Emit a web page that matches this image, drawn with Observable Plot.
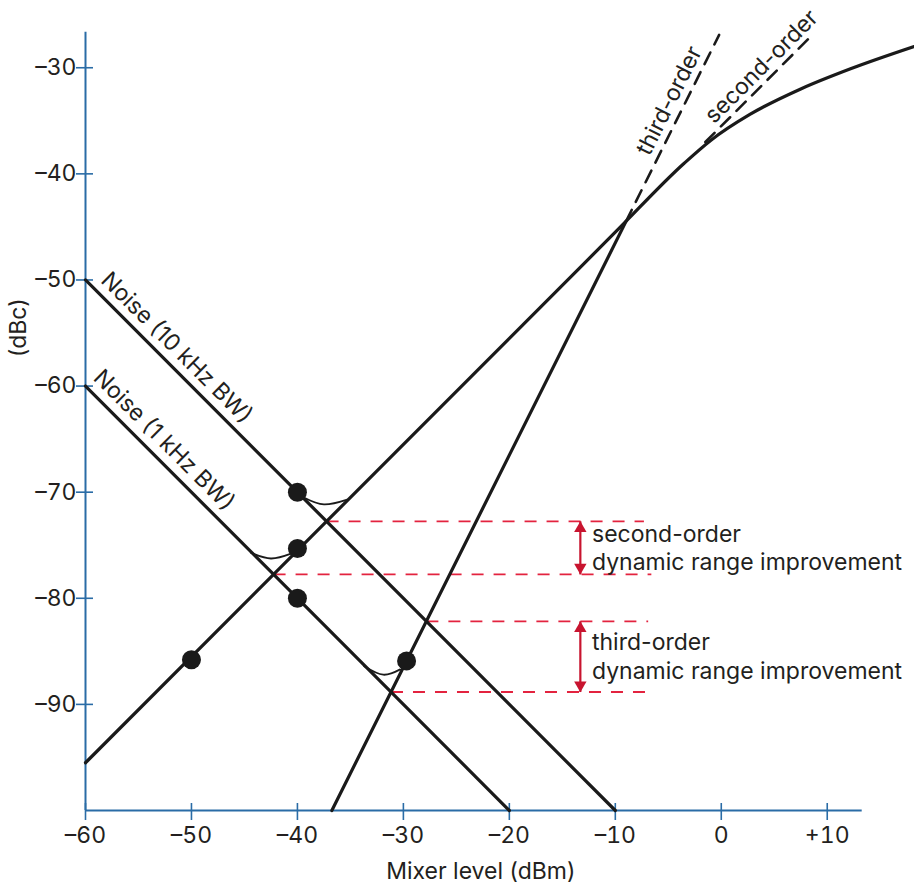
<!DOCTYPE html>
<html><head><meta charset="utf-8">
<script src="https://cdn.jsdelivr.net/npm/d3@7"></script>
<script src="https://cdn.jsdelivr.net/npm/@observablehq/plot@0.6"></script>
<style>body{margin:0;background:#fff}</style>
</head><body><div id="chart"></div>
<script>
// ---- data ----
const xTicks = [-60, -50, -40, -30, -20, -10, 0, 10];
const xTickLabels = ["–60", "–50", "–40", "–30", "–20", "–10", "0", "+10"];
const yTicks = [-30, -40, -50, -60, -70, -80, -90];
const yTickLabels = ["–30", "–40", "–50", "–60", "–70", "–80", "–90"];

const noise10kX = [-60, -10];
const noise10kY = [-50, -100];
const noise1kX = [-60, -20];
const noise1kY = [-60, -100];

// second-order line merging into the compression curve
const responseX = [-60, -10, -3.5, -1, 2.7, 7.5, 12.2, 18.2];
const responseY = [-95.5, -45.5, -39, -36.85, -34.4, -32.0, -30.1, -28.0];

const thirdSolidX = [-36.75, -9];
const thirdSolidY = [-100, -44.5];
const thirdDashX = [-9, -0.2];
const thirdDashY = [-44.5, -26.9];
const secondDashX = [-1.5, 8.7];
const secondDashY = [-37, -26.8];

const dotX = [-40, -40, -40, -50, -29.7];
const dotY = [-70, -75.3, -80, -85.8, -85.9];

const arc1X = [-39.4, -37.5, -35.3];
const arc1Y = [-70.5, -71.15, -70.7];
const arc2X = [-40.6, -42.5, -44.4];
const arc2Y = [-75.8, -76.25, -75.7];
const arc3X = [-30.3, -31.9, -33.7];
const arc3Y = [-86.7, -87.2, -86.4];

const redY = [-72.75, -77.75, -82.17, -88.83];
const redX1 = [-37.25, -42.25, -27.83, -31.17];
const redX2 = [-7.3, -6.6, -6.9, -6.9];

const arrowX = -13.3;
const arrowTop = [-72.75, -82.17];
const arrowBottom = [-77.75, -88.83];
const arrowText = ["second-order\ndynamic range improvement", "third-order\ndynamic range improvement"];
const arrowTextY = [-75.15, -85.4];
const arrowTextX = -12.2;

const lineLabels = ["Noise (10 kHz BW)", "Noise (1 kHz BW)", "third-order", "second-order"];
const lineLabelX = [-51.4, -52.6, -4.9, 3.8];
const lineLabelY = [-56.4, -65.1, -33.1, -29.9];
const lineLabelAngle = [45, 45, -63.4, -45];

const xLabel = "Mixer level (dBm)";
const yLabel = "(dBc)";

// ---- helpers ----
const pts = (xs, ys) => xs.map((x, i) => ({x, y: ys[i]}));
const xFmt = new Map(xTicks.map((d, i) => [d, xTickLabels[i]]));
const yFmt = new Map(yTicks.map((d, i) => [d, yTickLabels[i]]));

const BLUE = "#2a6ca6", INK = "#1a1a1a", RED = "#e3233f", DRED = "#c8142f", TXT = "#231f20";
const redLines = redY.map((y, i) => ({x1: redX1[i], x2: redX2[i], y}));
const arrows = arrowTop.map((t, i) => ({x: arrowX, y1: t, y2: arrowBottom[i]}));
const labels = lineLabels.map((t, i) => ({t, x: lineLabelX[i], y: lineLabelY[i], r: lineLabelAngle[i]}));

const chart = Plot.plot({
  width: 914,
  height: 886,
  marginLeft: 85,
  marginRight: 52.3,
  marginTop: 31.7,
  marginBottom: 76,
  x: {domain: [-60, 13.3]},
  y: {domain: [-100, -26.65]},
  style: {fontFamily: "Inter, 'Noto Sans', sans-serif", fontSize: "23px", color: TXT, background: "#fff", overflow: "visible"},
  marks: [
    // axes
    Plot.ruleX([-60], {stroke: BLUE, strokeWidth: 2}),
    Plot.ruleY([-100], {stroke: BLUE, strokeWidth: 2}),
    Plot.axisY(yTicks, {tickSize: 17, dx: 8, stroke: BLUE, strokeWidth: 1.6, tickFormat: () => "", label: null}),
    Plot.axisY(yTicks, {tickSize: 0, tickPadding: 9, tickFormat: d => yFmt.get(d), label: null, fill: TXT}),
    Plot.axisX(xTicks, {tickSize: 17, dy: -7, stroke: BLUE, strokeWidth: 1.6, tickFormat: () => "", label: null}),
    Plot.axisX(xTicks, {tickSize: 0, tickPadding: 16, tickFormat: d => xFmt.get(d), label: null, fill: TXT}),
    Plot.text([yLabel], {frameAnchor: "left", y: -57.25, dx: -67, rotate: -90, fill: TXT}),
    Plot.text([xLabel], {frameAnchor: "bottom", x: -22.7, dy: 68, fill: TXT}),

    // red dashed guides
    Plot.link(redLines, {x1: "x1", x2: "x2", y1: "y", y2: "y", stroke: RED, strokeWidth: 1.8, strokeDasharray: "12,10"}),

    // main lines
    Plot.line(pts(noise10kX, noise10kY), {x: "x", y: "y", stroke: INK, strokeWidth: 3.2}),
    Plot.line(pts(noise1kX, noise1kY), {x: "x", y: "y", stroke: INK, strokeWidth: 3.2}),
    Plot.line(pts(responseX, responseY), {x: "x", y: "y", stroke: INK, strokeWidth: 3.2, curve: "monotone-x"}),
    Plot.line(pts(thirdSolidX, thirdSolidY), {x: "x", y: "y", stroke: INK, strokeWidth: 3.2}),
    Plot.line(pts(thirdDashX, thirdDashY), {x: "x", y: "y", stroke: INK, strokeWidth: 2.6, strokeDasharray: "13,9"}),
    Plot.line(pts(secondDashX, secondDashY), {x: "x", y: "y", stroke: INK, strokeWidth: 2.6, strokeDasharray: "13,9"}),

    // arcs
    Plot.line(pts(arc1X, arc1Y), {x: "x", y: "y", stroke: INK, strokeWidth: 1.8, curve: "natural"}),
    Plot.line(pts(arc2X, arc2Y), {x: "x", y: "y", stroke: INK, strokeWidth: 1.8, curve: "natural"}),
    Plot.line(pts(arc3X, arc3Y), {x: "x", y: "y", stroke: INK, strokeWidth: 1.8, curve: "natural"}),

    // dots
    Plot.dot(pts(dotX, dotY), {x: "x", y: "y", r: 9.5, fill: INK}),

    // arrows
    Plot.link(arrows, {x1: "x", x2: "x", y1: "y1", y2: "y2", stroke: DRED, strokeWidth: 2.2}),
    Plot.dot(arrows, {x: "x", y: "y1", symbol: "triangle", r: 4.6, fill: DRED, dy: 7}),
    Plot.dot(arrows, {x: "x", y: "y2", symbol: "triangle", r: 4.6, fill: DRED, dy: -7, rotate: 180}),
    Plot.text(arrowText, {x: arrowTextX, y: (d, i) => arrowTextY[i], textAnchor: "start", lineHeight: 1.25, fill: TXT}),

    // line labels
    Plot.text(labels, {x: "x", y: "y", text: "t", rotate: "r", fill: TXT})
  ]
});
document.getElementById("chart").appendChild(chart);
</script>
</body></html>
